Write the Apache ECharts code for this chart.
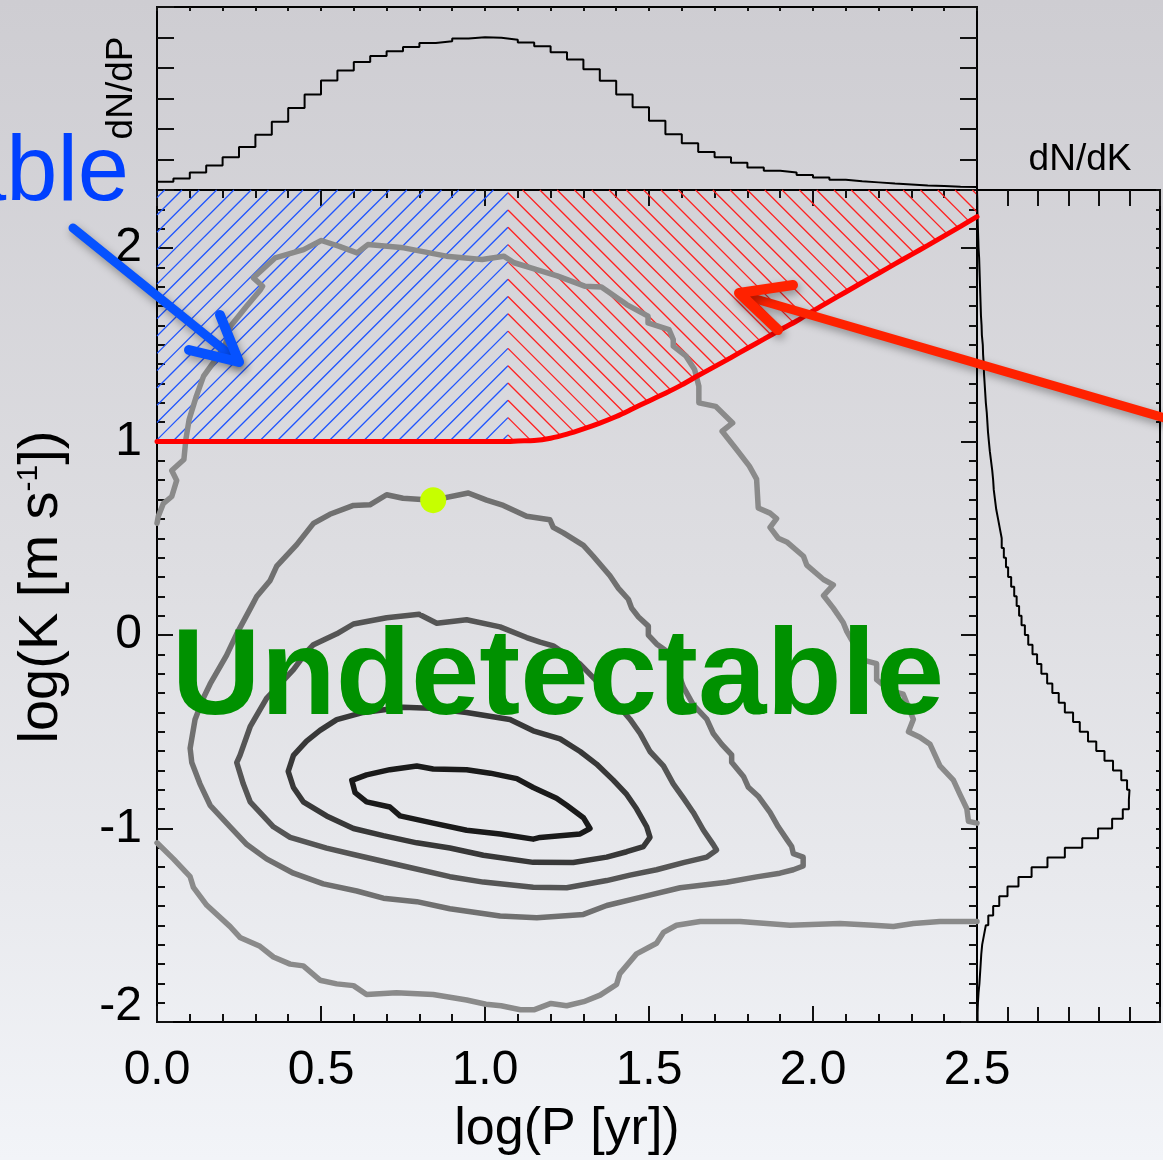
<!DOCTYPE html>
<html>
<head>
<meta charset="utf-8">
<script src="https://cdn.jsdelivr.net/npm/echarts@6/dist/echarts.min.js"></script>
<style>
html, body { margin: 0; padding: 0; }
#chart { width: 1163px; height: 1160px; }
</style>
</head>
<body>
<div id="chart"></div>
<script>
// ---------------- data ----------------
const logPRange = [0, 2.5];
const logKRange = [-2, 2.3];

// dN/dP marginal histogram: 50 bins of 0.05 in log P starting at 0
const dndpBinStart = 0;
const dndpBinWidth = 0.05;
const dndpCounts = [
  0.27, 0.38, 0.57, 0.80, 1.07, 1.41, 1.81, 2.24, 2.69, 3.13,
  3.59, 3.92, 4.20, 4.39, 4.55, 4.69, 4.82, 4.88, 4.97, 5.01,
  4.99, 4.93, 4.84, 4.71, 4.52, 4.28, 3.96, 3.58, 3.13, 2.71,
  2.27, 1.83, 1.53, 1.25, 1.07, 0.89, 0.74, 0.63, 0.57, 0.49,
  0.41, 0.34, 0.29, 0.25, 0.21, 0.18, 0.15, 0.13, 0.11, 0.10
];

// dN/dK marginal histogram: 86 bins of 0.05 in log K starting at -2
const dndkBinStart = -2;
const dndkBinWidth = 0.05;
const dndkCounts = [
  0.02, 0.03, 0.05, 0.08, 0.10, 0.12, 0.14, 0.17, 0.23, 0.29, 0.37,
  0.53, 0.73, 1.00, 1.36, 1.79, 2.31, 2.88, 3.45, 3.97, 4.43, 4.78,
  4.98, 5.00, 4.92, 4.73, 4.46, 4.18, 3.91, 3.64, 3.37, 3.15, 2.88,
  2.68, 2.47, 2.30, 2.11, 1.97, 1.82, 1.68, 1.57, 1.46, 1.38, 1.30,
  1.22, 1.12, 1.02, 0.95, 0.88, 0.81, 0.75, 0.69, 0.63, 0.59, 0.55, 0.53,
  0.50, 0.46, 0.42, 0.39, 0.36, 0.34, 0.32, 0.29, 0.27, 0.25, 0.23,
  0.22, 0.20, 0.19, 0.16, 0.15, 0.13, 0.12, 0.11, 0.10, 0.09, 0.08,
  0.07, 0.05, 0.04, 0.03, 0.02, 0.01, 0.01, 0.00
];

// detection threshold in (log P, log K)
const detBreakLogP = 1.07;
const detLogP = [0.00, 1.07, 1.10, 1.15, 1.20, 1.25, 1.30, 1.35, 1.40, 1.45, 1.50,
  1.55, 1.60, 1.65, 1.70, 1.75, 1.80, 1.85, 1.90, 1.95, 2.00,
  2.05, 2.10, 2.15, 2.20, 2.25, 2.30, 2.35, 2.40, 2.45, 2.50];
const detLogK = [1.000, 1.000, 1.003, 1.005, 1.017, 1.038, 1.065, 1.095, 1.129, 1.169, 1.210,
  1.250, 1.293, 1.341, 1.387, 1.434, 1.482, 1.529, 1.577, 1.623, 1.675,
  1.724, 1.773, 1.822, 1.870, 1.918, 1.966, 2.014, 2.063, 2.112, 2.162];

// density contours, outermost level (open at the plot edges)
const contourOuterUpper = [
  [0.000, 0.578], [0.004, 0.614], [0.019, 0.679], [0.045, 0.716], [0.060, 0.799], [0.045, 0.850],
  [0.082, 0.907], [0.088, 1.011], [0.098, 1.114], [0.120, 1.235], [0.142, 1.338], [0.164, 1.390],
  [0.207, 1.493], [0.224, 1.596], [0.273, 1.699], [0.316, 1.786], [0.322, 1.803], [0.294, 1.846],
  [0.349, 1.932], [0.360, 1.949], [0.447, 1.992], [0.501, 2.039], [0.556, 2.009], [0.610, 1.975],
  [0.643, 2.018], [0.752, 2.001], [0.882, 1.958], [0.991, 1.941], [1.057, 1.958], [1.089, 1.924],
  [1.155, 1.890], [1.220, 1.856], [1.304, 1.803], [1.355, 1.799], [1.432, 1.708], [1.497, 1.648],
  [1.497, 1.613], [1.561, 1.579], [1.574, 1.527], [1.574, 1.493], [1.613, 1.441], [1.639, 1.372],
  [1.652, 1.286], [1.652, 1.200], [1.703, 1.182], [1.755, 1.096], [1.723, 1.053], [1.767, 0.959],
  [1.806, 0.873], [1.828, 0.806], [1.833, 0.657], [1.869, 0.630], [1.889, 0.602], [1.869, 0.556],
  [1.894, 0.500], [1.920, 0.481], [1.971, 0.407], [1.981, 0.361], [2.032, 0.287], [2.062, 0.259],
  [2.032, 0.204], [2.062, 0.139], [2.092, 0.065], [2.103, 0.019], [2.153, -0.130], [2.194, -0.148],
  [2.194, -0.231], [2.235, -0.287], [2.275, -0.306], [2.306, -0.435], [2.291, -0.500], [2.326, -0.528],
  [2.357, -0.565], [2.387, -0.676], [2.428, -0.750], [2.448, -0.824], [2.469, -0.898], [2.474, -0.963],
  [2.500, -0.972]
];
const contourOuterLower = [
  [0.000, -1.074], [0.050, -1.157], [0.101, -1.249], [0.111, -1.304], [0.152, -1.397], [0.223, -1.507],
  [0.253, -1.563], [0.314, -1.609], [0.355, -1.664], [0.406, -1.701], [0.446, -1.710], [0.497, -1.784],
  [0.548, -1.803], [0.599, -1.812], [0.639, -1.858], [0.730, -1.849], [0.842, -1.858], [0.944, -1.886],
  [1.003, -1.908], [1.049, -1.916], [1.108, -1.937], [1.149, -1.937], [1.201, -1.904], [1.249, -1.916],
  [1.301, -1.895], [1.351, -1.861], [1.401, -1.806], [1.411, -1.750], [1.462, -1.648], [1.523, -1.593],
  [1.544, -1.537], [1.584, -1.500], [1.656, -1.481], [1.778, -1.481], [1.930, -1.500], [2.082, -1.491],
  [2.184, -1.500], [2.245, -1.506], [2.306, -1.491], [2.387, -1.481], [2.500, -1.481]
];
// closed contour levels, from outer to inner
const contourLevel2 = [
  [0.949, 0.734], [0.842, 0.697], [0.750, 0.707], [0.700, 0.725], [0.649, 0.673], [0.599, 0.670],
  [0.527, 0.624], [0.477, 0.577], [0.426, 0.467], [0.365, 0.356], [0.345, 0.282], [0.304, 0.199],
  [0.284, 0.135], [0.243, 0.006], [0.212, -0.105], [0.162, -0.253], [0.141, -0.327], [0.116, -0.437],
  [0.101, -0.585], [0.106, -0.659], [0.131, -0.769], [0.162, -0.880], [0.223, -0.991], [0.274, -1.083],
  [0.334, -1.157], [0.416, -1.231], [0.507, -1.286], [0.609, -1.323], [0.690, -1.360], [0.792, -1.378],
  [0.893, -1.415], [1.046, -1.452], [1.158, -1.461], [1.300, -1.444], [1.371, -1.398], [1.483, -1.352],
  [1.595, -1.306], [1.737, -1.278], [1.828, -1.250], [1.899, -1.231], [1.940, -1.213], [1.970, -1.194],
  [1.970, -1.148], [1.940, -1.130], [1.935, -1.093], [1.920, -1.056], [1.894, -0.991], [1.869, -0.917],
  [1.833, -0.833], [1.803, -0.787], [1.788, -0.731], [1.752, -0.657], [1.752, -0.620], [1.722, -0.565],
  [1.696, -0.509], [1.676, -0.435], [1.635, -0.361], [1.605, -0.269], [1.569, -0.102], [1.523, -0.046],
  [1.498, 0.000], [1.498, 0.046], [1.468, 0.093], [1.447, 0.139], [1.437, 0.185], [1.407, 0.241],
  [1.381, 0.306], [1.330, 0.407], [1.300, 0.463], [1.239, 0.528], [1.208, 0.556], [1.198, 0.596],
  [1.127, 0.614], [1.056, 0.670], [1.005, 0.697], [0.949, 0.734]
];
const contourLevel3 = [
  [0.799, 0.107], [0.700, 0.089], [0.599, 0.057], [0.548, 0.006], [0.477, -0.050], [0.456, -0.087],
  [0.416, -0.179], [0.334, -0.327], [0.284, -0.474], [0.253, -0.622], [0.243, -0.659], [0.263, -0.769],
  [0.284, -0.862], [0.355, -0.991], [0.406, -1.046], [0.517, -1.101], [0.609, -1.138], [0.751, -1.194],
  [0.893, -1.249], [0.995, -1.277], [1.147, -1.304], [1.249, -1.306], [1.371, -1.269], [1.442, -1.241],
  [1.523, -1.213], [1.605, -1.176], [1.676, -1.148], [1.706, -1.111], [1.696, -1.083], [1.666, -1.009],
  [1.635, -0.917], [1.605, -0.843], [1.574, -0.769], [1.544, -0.676], [1.503, -0.602], [1.473, -0.509],
  [1.442, -0.435], [1.370, -0.290], [1.290, -0.150], [1.208, -0.056], [1.168, -0.037], [1.127, -0.013],
  [1.046, 0.042], [0.944, 0.079], [0.853, 0.061], [0.799, 0.107]
];
const contourLevel4 = [
  [1.076, -0.437], [0.944, -0.400], [0.832, -0.378], [0.751, -0.373], [0.629, -0.400], [0.548, -0.437],
  [0.497, -0.493], [0.456, -0.548], [0.416, -0.622], [0.400, -0.705], [0.416, -0.788], [0.446, -0.862],
  [0.517, -0.935], [0.599, -1.000], [0.690, -1.037], [0.792, -1.074], [0.893, -1.101], [0.995, -1.138],
  [1.147, -1.175], [1.269, -1.176], [1.371, -1.148], [1.432, -1.120], [1.483, -1.093], [1.503, -1.046],
  [1.493, -0.991], [1.462, -0.898], [1.432, -0.824], [1.391, -0.750], [1.340, -0.667], [1.290, -0.602],
  [1.229, -0.537], [1.147, -0.495], [1.076, -0.437]
];
const contourLevel5 = [
  [0.594, -0.751], [0.639, -0.723], [0.710, -0.696], [0.792, -0.677], [0.842, -0.692], [0.944, -0.696],
  [1.016, -0.714], [1.097, -0.742], [1.147, -0.788], [1.218, -0.843], [1.249, -0.880], [1.300, -0.944],
  [1.320, -1.000], [1.290, -1.028], [1.229, -1.037], [1.168, -1.046], [1.147, -1.055], [1.046, -1.028],
  [0.944, -1.009], [0.842, -0.972], [0.741, -0.935], [0.710, -0.889], [0.639, -0.862], [0.604, -0.815],
  [0.594, -0.751]
];

// highlighted system
const markerPoint = [0.842, 0.697];

// ---------------- helpers ----------------
const FONT = '"Liberation Sans", Arial, Helvetica, sans-serif';
const BLUE_HATCH = '#1f55ff';
const RED_HATCH = '#ff2121';

function stairsAlongX(start, width, counts) {
  const pts = [];
  counts.forEach((c, i) => { pts.push([start + i * width, c], [start + (i + 1) * width, c]); });
  return pts;
}
function stairsAlongY(start, width, counts) {
  const pts = [];
  counts.forEach((c, i) => { pts.push([c, start + i * width], [c, start + (i + 1) * width]); });
  return pts;
}

// diagonal hatching of the two detectable zones, built in pixel space
function renderHatch(params, api) {
  const xL = api.coord([logPRange[0], 0])[0];
  const xR = api.coord([logPRange[1], 0])[0];
  const yT = api.coord([0, logKRange[1]])[1];
  const yB = api.coord([0, detLogK[0]])[1];
  const xD = api.coord([detBreakLogP, detLogK[0]])[0];
  const curve = detLogP.map((p, i) => api.coord([p, detLogK[i]]));
  const step = 17.3, phase = 2.7;
  const children = [];
  const seg = (x1, y1, x2, y2, c) => ({
    type: 'line', shape: { x1, y1, x2, y2 },
    style: { stroke: c, lineWidth: 1.3 }, silent: true
  });
  const kMax = Math.ceil((yB - yT - phase) / step) + 1;
  // '/' lines left of the break
  const kMinBlue = Math.floor((-(xD - xL) - phase) / step) - 1;
  for (let k = kMinBlue; k <= kMax; k++) {
    const yk = yT + phase + k * step;
    const a = Math.max(xL, xD + yk - yB);
    const b = Math.min(xD, xD + yk - yT);
    if (b - a > 0.3) children.push(seg(a, yk + xD - a, b, yk + xD - b, BLUE_HATCH));
  }
  // '\' lines right of the break, down to the threshold curve
  const kMinRed = Math.floor((-(xR - xD) - phase) / step) - 1;
  for (let k = kMinRed; k <= kMax; k++) {
    const yk = yT + phase + k * step;
    if (yk > yB) continue;
    const a = Math.max(xD, xD + yT - yk);
    let xs = xR;
    for (let i = 0; i < curve.length - 1; i++) {
      const p = curve[i], q = curve[i + 1];
      if (q[0] <= xD + 0.01) continue;
      const hp = p[1] - (yk + p[0] - xD);
      const hq = q[1] - (yk + q[0] - xD);
      if (hp >= 0 && hq < 0) { xs = p[0] + (q[0] - p[0]) * hp / (hp - hq); break; }
    }
    const b = Math.min(xR, xs);
    if (b - a > 0.3) children.push(seg(a, yk + a - xD, b, yk + b - xD, RED_HATCH));
  }
  return { type: 'group', children };
}

function contourSeries(data, color) {
  return {
    type: 'line', xAxisIndex: 0, yAxisIndex: 0, data,
    symbol: 'none', showSymbol: false, silent: true, z: 3,
    lineStyle: { color, width: 5.5, join: 'round', cap: 'round' }
  };
}

const tick = (len, show = true) => ({
  show, inside: true, length: len, lineStyle: { color: '#111', width: 2 }
});
const frame = (show = true) => ({ show, onZero: false, lineStyle: { color: '#000', width: 2 } });
const noLabel = { show: false };

// ---------------- chart ----------------
const chart = echarts.init(document.getElementById('chart'), null, { renderer: 'canvas' });

const option = {
  animation: false,
  backgroundColor: {
    type: 'linear', x: 0, y: 0, x2: 0, y2: 1,
    colorStops: [
      { offset: 0, color: '#cecdd2' },
      { offset: 0.5, color: '#dedee2' },
      { offset: 1, color: '#f2f4f8' }
    ]
  },
  grid: [
    { left: 157, top: 190, width: 820, height: 832 },   // main panel
    { left: 157, top: 7, width: 820, height: 183 },     // dN/dP panel
    { left: 977, top: 190, width: 183, height: 832 }    // dN/dK panel
  ],
  xAxis: [
    { gridIndex: 0, type: 'value', position: 'bottom', min: 0, max: 2.5, interval: 0.5,
      axisLine: frame(), axisTick: tick(16), splitLine: { show: false },
      axisLabel: { fontSize: 48, fontFamily: FONT, color: '#000', margin: 25,
        formatter: v => v.toFixed(1) } },
    { gridIndex: 0, type: 'value', position: 'bottom', min: 0, max: 2.5, interval: 0.1,
      axisLine: frame(false), axisTick: tick(8), splitLine: { show: false }, axisLabel: noLabel },
    { gridIndex: 0, type: 'value', position: 'top', min: 0, max: 2.5, interval: 0.5,
      axisLine: frame(), axisTick: tick(16), splitLine: { show: false }, axisLabel: noLabel },
    { gridIndex: 0, type: 'value', position: 'top', min: 0, max: 2.5, interval: 0.1,
      axisLine: frame(false), axisTick: tick(8), splitLine: { show: false }, axisLabel: noLabel },
    { gridIndex: 1, type: 'value', position: 'top', min: 0, max: 2.5, interval: 0.1,
      axisLine: frame(), axisTick: tick(4), splitLine: { show: false }, axisLabel: noLabel },
    { gridIndex: 2, type: 'value', position: 'top', min: 0, max: 6, interval: 1,
      axisLine: frame(), axisTick: tick(16), splitLine: { show: false }, axisLabel: noLabel },
    { gridIndex: 2, type: 'value', position: 'bottom', min: 0, max: 6, interval: 1,
      axisLine: frame(), axisTick: tick(15), splitLine: { show: false }, axisLabel: noLabel }
  ],
  yAxis: [
    { gridIndex: 0, type: 'value', position: 'left', min: -2, max: 2.3, interval: 1,
      axisLine: frame(), axisTick: tick(16), splitLine: { show: false },
      axisLabel: { fontSize: 48, fontFamily: FONT, color: '#000', margin: 15,
        formatter: v => (Math.abs(v - Math.round(v)) > 1e-6 ? '' : (v === -2 ? '{lo|-2}' : String(Math.round(v)))),
        rich: { lo: { fontSize: 48, fontFamily: FONT, color: '#000', padding: [0, 0, 30, 0] } } } },
    { gridIndex: 0, type: 'value', position: 'left', min: -2, max: 2.3, interval: 0.1,
      axisLine: frame(false), axisTick: tick(8), splitLine: { show: false }, axisLabel: noLabel },
    { gridIndex: 0, type: 'value', position: 'right', min: -2, max: 2.3, interval: 1,
      axisLine: frame(), axisTick: tick(16), splitLine: { show: false }, axisLabel: noLabel },
    { gridIndex: 0, type: 'value', position: 'right', min: -2, max: 2.3, interval: 0.1,
      axisLine: frame(false), axisTick: tick(8), splitLine: { show: false }, axisLabel: noLabel },
    { gridIndex: 1, type: 'value', position: 'left', min: 0, max: 6, interval: 1,
      axisLine: frame(), axisTick: tick(17), splitLine: { show: false }, axisLabel: noLabel },
    { gridIndex: 1, type: 'value', position: 'right', min: 0, max: 6, interval: 1,
      axisLine: frame(), axisTick: tick(17), splitLine: { show: false }, axisLabel: noLabel },
    { gridIndex: 2, type: 'value', position: 'right', min: -2, max: 2.3, interval: 0.1,
      axisLine: frame(), axisTick: tick(4), splitLine: { show: false }, axisLabel: noLabel }
  ],
  series: [
    { type: 'custom', xAxisIndex: 0, yAxisIndex: 0, data: [[1, 1]], renderItem: renderHatch,
      silent: true, z: 1, clip: false },
    contourSeries(contourOuterUpper, '#8a8a8a'),
    contourSeries(contourOuterLower, '#8a8a8a'),
    contourSeries(contourLevel2, '#707070'),
    contourSeries(contourLevel3, '#555555'),
    contourSeries(contourLevel4, '#383838'),
    contourSeries(contourLevel5, '#1a1a1a'),
    { type: 'line', xAxisIndex: 0, yAxisIndex: 0, z: 4, silent: true,
      data: detLogP.map((p, i) => [p, detLogK[i]]),
      symbol: 'none', smooth: 0.3, lineStyle: { color: '#ff0000', width: 5, cap: 'round' } },
    { type: 'scatter', xAxisIndex: 0, yAxisIndex: 0, z: 5, silent: true,
      data: [markerPoint], symbolSize: 26, itemStyle: { color: '#c6ff00', opacity: 1 } },
    { type: 'line', xAxisIndex: 4, yAxisIndex: 4, z: 3, silent: true,
      data: stairsAlongX(dndpBinStart, dndpBinWidth, dndpCounts),
      symbol: 'none', lineStyle: { color: '#000', width: 2 } },
    { type: 'line', xAxisIndex: 5, yAxisIndex: 6, z: 3, silent: true,
      data: stairsAlongY(dndkBinStart, dndkBinWidth, dndkCounts),
      symbol: 'none', lineStyle: { color: '#000', width: 2 } }
  ],
  graphic: [
    { type: 'text', z: 50, x: 129, y: 175, silent: true,
      style: { text: 'Detectable', fill: '#0040ff', font: '92px ' + FONT,
        fontSize: 92, fontFamily: FONT,
        align: 'right', textAlign: 'right', verticalAlign: 'middle', textVerticalAlign: 'middle' } },
    { type: 'text', z: 50, x: 558, y: 680, silent: true,
      style: { text: 'Undetectable', fill: '#009100', font: 'bold 123px ' + FONT,
        fontSize: 123, fontWeight: 'bold', fontFamily: FONT,
        align: 'center', textAlign: 'center', verticalAlign: 'middle', textVerticalAlign: 'middle' } },
    { type: 'text', z: 50, x: 122, y: 88, rotation: Math.PI / 2, silent: true,
      style: { text: 'dN/dP', fill: '#000', font: '37px ' + FONT, fontSize: 37, fontFamily: FONT,
        align: 'center', textAlign: 'center', verticalAlign: 'middle', textVerticalAlign: 'middle' } },
    { type: 'text', z: 50, x: 1080, y: 160, silent: true,
      style: { text: 'dN/dK', fill: '#000', font: '37px ' + FONT, fontSize: 37, fontFamily: FONT,
        align: 'center', textAlign: 'center', verticalAlign: 'middle', textVerticalAlign: 'middle' } },
    { type: 'text', z: 50, x: 567, y: 1130, silent: true,
      style: { text: 'log(P [yr])', fill: '#000', font: '52px ' + FONT, fontSize: 52, fontFamily: FONT,
        align: 'center', textAlign: 'center', verticalAlign: 'middle', textVerticalAlign: 'middle' } },
    { type: 'text', z: 50, x: 42, y: 587, rotation: Math.PI / 2, silent: true,
      style: { text: '{m|log(K [m s}{s|-1}{m|])}', fill: '#000',
        align: 'center', textAlign: 'center', verticalAlign: 'middle', textVerticalAlign: 'middle',
        rich: {
          m: { fontSize: 56, fontFamily: FONT, fill: '#000', color: '#000', lineHeight: 56 },
          s: { fontSize: 30, fontFamily: FONT, fill: '#000', color: '#000', lineHeight: 12, verticalAlign: 'top' }
        } } },
    // arrow pointing into the detectable (blue) zone
    { type: 'polyline', z: 60, silent: true, shape: { points: [[73, 228], [239, 362]] },
      style: { stroke: '#0652ff', lineWidth: 9, lineCap: 'round', lineJoin: 'round',
        shadowBlur: 8, shadowColor: 'rgba(0,0,0,0.35)', shadowOffsetX: 2, shadowOffsetY: 4 } },
    { type: 'polyline', z: 60, silent: true, shape: { points: [[220, 315], [239, 362], [189, 350]] },
      style: { stroke: '#0652ff', lineWidth: 10, lineCap: 'round', lineJoin: 'round',
        shadowBlur: 8, shadowColor: 'rgba(0,0,0,0.35)', shadowOffsetX: 2, shadowOffsetY: 4 } },
    // arrow pointing into the detectable (red) zone
    { type: 'polyline', z: 60, silent: true, shape: { points: [[1175, 421], [742, 295]] },
      style: { stroke: '#ff2200', lineWidth: 9, lineCap: 'round', lineJoin: 'round',
        shadowBlur: 8, shadowColor: 'rgba(0,0,0,0.35)', shadowOffsetX: 2, shadowOffsetY: 4 } },
    { type: 'polyline', z: 60, silent: true, shape: { points: [[793, 285], [739, 293], [778, 330]] },
      style: { stroke: '#ff2200', lineWidth: 10, lineCap: 'round', lineJoin: 'round',
        shadowBlur: 8, shadowColor: 'rgba(0,0,0,0.35)', shadowOffsetX: 2, shadowOffsetY: 4 } }
  ]
};

chart.setOption(option);
</script>
</body>
</html>
